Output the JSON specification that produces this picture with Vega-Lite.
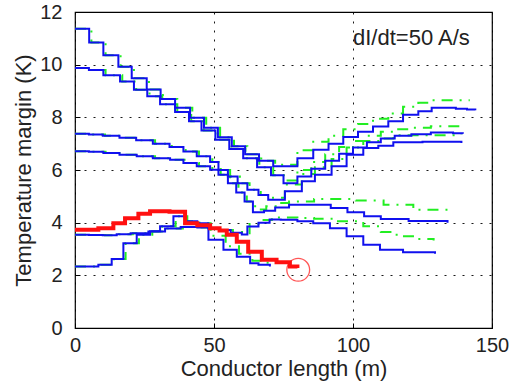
{
  "$schema": "https://vega.github.io/schema/vega-lite/v6.json",
  "width": 417,
  "height": 316,
  "autosize": {"type": "none"},
  "padding": {"left": 75, "top": 12, "right": 29, "bottom": 60},
  "config": {
    "view": {"stroke": "black", "strokeWidth": 1.2},
    "font": "Liberation Sans",
    "axis": {
      "grid": true,
      "gridColor": "black",
      "gridDash": [2, 7],
      "gridOpacity": 0.9,
      "domain": false,
      "tickSize": -5,
      "tickColor": "black",
      "labelFontSize": 20,
      "labelColor": "#222",
      "labelFlush": false,
      "titleFontSize": 22,
      "titleFontWeight": "normal",
      "titleColor": "#222"
    }
  },
  "datasets": {
    "blue": [
      {"s": "A", "x": 0, "y": 11.36}, {"s": "A", "x": 5.1, "y": 10.84}, {"s": "A", "x": 10.2, "y": 10.36}, {"s": "A", "x": 15.6, "y": 9.92}, {"s": "A", "x": 20.4, "y": 9.48}, {"s": "A", "x": 25.8, "y": 9.06}, {"s": "A", "x": 30.8, "y": 8.7}, {"s": "A", "x": 36, "y": 8.36}, {"s": "A", "x": 41.4, "y": 7.98}, {"s": "A", "x": 46.4, "y": 7.6}, {"s": "A", "x": 51.4, "y": 7.24}, {"s": "A", "x": 56.4, "y": 6.9}, {"s": "A", "x": 61.2, "y": 6.6}, {"s": "A", "x": 66.2, "y": 6.35}, {"s": "A", "x": 71.3, "y": 6.14}, {"s": "A", "x": 80, "y": 6.45}, {"s": "A", "x": 85.7, "y": 6.77}, {"s": "A", "x": 91.2, "y": 7.0}, {"s": "A", "x": 96.5, "y": 7.25}, {"s": "A", "x": 101.8, "y": 7.45}, {"s": "A", "x": 107.2, "y": 7.65}, {"s": "A", "x": 112.7, "y": 7.85}, {"s": "A", "x": 118, "y": 8.1}, {"s": "A", "x": 123.5, "y": 8.23}, {"s": "A", "x": 128.3, "y": 8.36}, {"s": "A", "x": 137, "y": 8.33}, {"s": "A", "x": 141, "y": 8.3}, {"s": "A", "x": 144, "y": 8.27},
      {"s": "B", "x": 0, "y": 9.87}, {"s": "B", "x": 5, "y": 9.8}, {"s": "B", "x": 10.2, "y": 9.6}, {"s": "B", "x": 16.2, "y": 9.36}, {"s": "B", "x": 21.2, "y": 9.05}, {"s": "B", "x": 26, "y": 8.8}, {"s": "B", "x": 30.6, "y": 8.5}, {"s": "B", "x": 36, "y": 8.2}, {"s": "B", "x": 41, "y": 7.85}, {"s": "B", "x": 45.5, "y": 7.5}, {"s": "B", "x": 50.5, "y": 7.15}, {"s": "B", "x": 55.5, "y": 6.8}, {"s": "B", "x": 60.5, "y": 6.45}, {"s": "B", "x": 65.5, "y": 6.1}, {"s": "B", "x": 70.5, "y": 5.8}, {"s": "B", "x": 75, "y": 5.5}, {"s": "B", "x": 80, "y": 5.75}, {"s": "B", "x": 85, "y": 6.05}, {"s": "B", "x": 90, "y": 6.35}, {"s": "B", "x": 95, "y": 6.62}, {"s": "B", "x": 100, "y": 6.85}, {"s": "B", "x": 105, "y": 7.05}, {"s": "B", "x": 110, "y": 7.2}, {"s": "B", "x": 115, "y": 7.3}, {"s": "B", "x": 121, "y": 7.36}, {"s": "B", "x": 128, "y": 7.42}, {"s": "B", "x": 136, "y": 7.4}, {"s": "B", "x": 139.5, "y": 7.38},
      {"s": "C", "x": 0, "y": 7.38}, {"s": "C", "x": 5, "y": 7.35}, {"s": "C", "x": 10, "y": 7.3}, {"s": "C", "x": 16, "y": 7.22}, {"s": "C", "x": 22, "y": 7.13}, {"s": "C", "x": 28, "y": 7.0}, {"s": "C", "x": 34, "y": 6.87}, {"s": "C", "x": 39, "y": 6.7}, {"s": "C", "x": 43.8, "y": 6.52}, {"s": "C", "x": 48.6, "y": 6.3}, {"s": "C", "x": 51.6, "y": 6.0}, {"s": "C", "x": 55, "y": 5.75}, {"s": "C", "x": 58.5, "y": 5.5}, {"s": "C", "x": 62, "y": 5.25}, {"s": "C", "x": 66, "y": 5.05}, {"s": "C", "x": 69.5, "y": 4.87}, {"s": "C", "x": 75.5, "y": 5.19}, {"s": "C", "x": 81.6, "y": 5.57}, {"s": "C", "x": 86.3, "y": 5.82}, {"s": "C", "x": 92.3, "y": 6.14}, {"s": "C", "x": 97.7, "y": 6.58}, {"s": "C", "x": 103.7, "y": 6.84}, {"s": "C", "x": 109.1, "y": 6.92}, {"s": "C", "x": 114.5, "y": 7.05}, {"s": "C", "x": 125, "y": 7.07}, {"s": "C", "x": 139, "y": 7.03},
      {"s": "D", "x": 0, "y": 6.71}, {"s": "D", "x": 5, "y": 6.69}, {"s": "D", "x": 10.2, "y": 6.65}, {"s": "D", "x": 16, "y": 6.58}, {"s": "D", "x": 22.2, "y": 6.52}, {"s": "D", "x": 28, "y": 6.45}, {"s": "D", "x": 34.2, "y": 6.39}, {"s": "D", "x": 39, "y": 6.27}, {"s": "D", "x": 43.8, "y": 6.14}, {"s": "D", "x": 48.6, "y": 6.01}, {"s": "D", "x": 51.6, "y": 5.82}, {"s": "D", "x": 55, "y": 5.5}, {"s": "D", "x": 58, "y": 5.15}, {"s": "D", "x": 61, "y": 4.8}, {"s": "D", "x": 64, "y": 4.4}, {"s": "D", "x": 68, "y": 4.45}, {"s": "D", "x": 72, "y": 4.58}, {"s": "D", "x": 77, "y": 4.68}, {"s": "D", "x": 86, "y": 4.68}, {"s": "D", "x": 92, "y": 4.56}, {"s": "D", "x": 98, "y": 4.4}, {"s": "D", "x": 104, "y": 4.24}, {"s": "D", "x": 110, "y": 4.14}, {"s": "D", "x": 120, "y": 4.06}, {"s": "D", "x": 134, "y": 4.0},
      {"s": "E", "x": 0, "y": 3.54}, {"s": "E", "x": 5, "y": 3.53}, {"s": "E", "x": 10, "y": 3.52}, {"s": "E", "x": 15, "y": 3.56}, {"s": "E", "x": 20, "y": 3.6}, {"s": "E", "x": 26.4, "y": 3.66}, {"s": "E", "x": 32.4, "y": 3.78}, {"s": "E", "x": 38, "y": 3.84}, {"s": "E", "x": 44, "y": 3.82}, {"s": "E", "x": 48, "y": 3.78}, {"s": "E", "x": 52, "y": 3.72}, {"s": "E", "x": 56, "y": 3.62}, {"s": "E", "x": 60, "y": 3.55}, {"s": "E", "x": 62, "y": 3.85}, {"s": "E", "x": 66, "y": 4.0}, {"s": "E", "x": 70, "y": 4.12}, {"s": "E", "x": 74, "y": 4.11}, {"s": "E", "x": 80, "y": 4.05}, {"s": "E", "x": 85.7, "y": 3.98}, {"s": "E", "x": 91.7, "y": 3.79}, {"s": "E", "x": 97.7, "y": 3.48}, {"s": "E", "x": 103.7, "y": 3.16}, {"s": "E", "x": 109.7, "y": 2.97}, {"s": "E", "x": 118, "y": 2.88}, {"s": "E", "x": 129.5, "y": 2.82},
      {"s": "F", "x": 0, "y": 2.34}, {"s": "F", "x": 8.4, "y": 2.4}, {"s": "F", "x": 13.2, "y": 2.62}, {"s": "F", "x": 17.4, "y": 3.22}, {"s": "F", "x": 22.2, "y": 3.54}, {"s": "F", "x": 27, "y": 3.67}, {"s": "F", "x": 30.6, "y": 3.86}, {"s": "F", "x": 35.4, "y": 4.24}, {"s": "F", "x": 39.6, "y": 4.05}, {"s": "F", "x": 44, "y": 3.98}, {"s": "F", "x": 48, "y": 3.35}, {"s": "F", "x": 53.4, "y": 2.97}, {"s": "F", "x": 58.2, "y": 2.71}, {"s": "F", "x": 63, "y": 2.46}, {"s": "F", "x": 66, "y": 2.4}, {"s": "F", "x": 70.1, "y": 2.34}
    ],
    "green": [
      {"s": "A", "x": 0, "y": 11.36}, {"s": "A", "x": 5.9, "y": 10.84}, {"s": "A", "x": 11, "y": 10.36}, {"s": "A", "x": 16.4, "y": 9.92}, {"s": "A", "x": 21.2, "y": 9.48}, {"s": "A", "x": 26.6, "y": 9.06}, {"s": "A", "x": 31.6, "y": 8.7}, {"s": "A", "x": 36.8, "y": 8.36}, {"s": "A", "x": 42.2, "y": 7.98}, {"s": "A", "x": 47.2, "y": 7.6}, {"s": "A", "x": 52.2, "y": 7.24}, {"s": "A", "x": 57.2, "y": 6.9}, {"s": "A", "x": 62, "y": 6.6}, {"s": "A", "x": 67, "y": 6.35}, {"s": "A", "x": 72, "y": 6.2}, {"s": "A", "x": 80, "y": 6.75}, {"s": "A", "x": 85.7, "y": 7.07}, {"s": "A", "x": 91.2, "y": 7.3}, {"s": "A", "x": 96.5, "y": 7.55}, {"s": "A", "x": 101.8, "y": 7.75}, {"s": "A", "x": 107.2, "y": 7.95}, {"s": "A", "x": 112.7, "y": 8.15}, {"s": "A", "x": 118, "y": 8.4}, {"s": "A", "x": 123.5, "y": 8.55}, {"s": "A", "x": 128.3, "y": 8.65}, {"s": "A", "x": 142, "y": 8.65},
      {"s": "B", "x": 0, "y": 9.87}, {"s": "B", "x": 5.8, "y": 9.8}, {"s": "B", "x": 11, "y": 9.6}, {"s": "B", "x": 17, "y": 9.36}, {"s": "B", "x": 22, "y": 9.05}, {"s": "B", "x": 26.8, "y": 8.8}, {"s": "B", "x": 31.4, "y": 8.5}, {"s": "B", "x": 36.8, "y": 8.2}, {"s": "B", "x": 41.8, "y": 7.85}, {"s": "B", "x": 46.3, "y": 7.5}, {"s": "B", "x": 51.3, "y": 7.15}, {"s": "B", "x": 56.3, "y": 6.8}, {"s": "B", "x": 61.3, "y": 6.45}, {"s": "B", "x": 66.3, "y": 6.1}, {"s": "B", "x": 71.3, "y": 5.8}, {"s": "B", "x": 75.8, "y": 5.6}, {"s": "B", "x": 80, "y": 6.0}, {"s": "B", "x": 85, "y": 6.3}, {"s": "B", "x": 90, "y": 6.6}, {"s": "B", "x": 95, "y": 6.87}, {"s": "B", "x": 100, "y": 7.1}, {"s": "B", "x": 105, "y": 7.3}, {"s": "B", "x": 110, "y": 7.45}, {"s": "B", "x": 115, "y": 7.55}, {"s": "B", "x": 121, "y": 7.6}, {"s": "B", "x": 128, "y": 7.66}, {"s": "B", "x": 139.5, "y": 7.64},
      {"s": "C", "x": 0, "y": 7.38}, {"s": "C", "x": 5.8, "y": 7.35}, {"s": "C", "x": 10.8, "y": 7.3}, {"s": "C", "x": 16.8, "y": 7.22}, {"s": "C", "x": 22.8, "y": 7.13}, {"s": "C", "x": 28.8, "y": 7.0}, {"s": "C", "x": 34.8, "y": 6.87}, {"s": "C", "x": 39.8, "y": 6.7}, {"s": "C", "x": 44.6, "y": 6.52}, {"s": "C", "x": 49.4, "y": 6.3}, {"s": "C", "x": 52.4, "y": 6.0}, {"s": "C", "x": 55.8, "y": 5.75}, {"s": "C", "x": 59.3, "y": 5.5}, {"s": "C", "x": 62.8, "y": 5.25}, {"s": "C", "x": 66.8, "y": 5.05}, {"s": "C", "x": 70.3, "y": 4.95}, {"s": "C", "x": 75.5, "y": 5.45}, {"s": "C", "x": 81.6, "y": 5.85}, {"s": "C", "x": 86.3, "y": 6.1}, {"s": "C", "x": 92.3, "y": 6.42}, {"s": "C", "x": 97.7, "y": 6.85}, {"s": "C", "x": 103.7, "y": 7.1}, {"s": "C", "x": 109.1, "y": 7.2}, {"s": "C", "x": 114.5, "y": 7.32}, {"s": "C", "x": 139, "y": 7.34},
      {"s": "D", "x": 0, "y": 6.71}, {"s": "D", "x": 5.8, "y": 6.69}, {"s": "D", "x": 11, "y": 6.65}, {"s": "D", "x": 16.8, "y": 6.58}, {"s": "D", "x": 23, "y": 6.52}, {"s": "D", "x": 28.8, "y": 6.45}, {"s": "D", "x": 35, "y": 6.39}, {"s": "D", "x": 39.8, "y": 6.27}, {"s": "D", "x": 44.6, "y": 6.14}, {"s": "D", "x": 49.4, "y": 6.01}, {"s": "D", "x": 52.4, "y": 5.82}, {"s": "D", "x": 55.8, "y": 5.5}, {"s": "D", "x": 58.8, "y": 5.15}, {"s": "D", "x": 61.8, "y": 4.8}, {"s": "D", "x": 64.8, "y": 4.5}, {"s": "D", "x": 68.8, "y": 4.62}, {"s": "D", "x": 72.8, "y": 4.75}, {"s": "D", "x": 77, "y": 4.8}, {"s": "D", "x": 86, "y": 4.9}, {"s": "D", "x": 92, "y": 4.9}, {"s": "D", "x": 101, "y": 4.84}, {"s": "D", "x": 111, "y": 4.68}, {"s": "D", "x": 121.7, "y": 4.49}, {"s": "D", "x": 134, "y": 4.43},
      {"s": "E", "x": 0, "y": 3.54}, {"s": "E", "x": 5.8, "y": 3.53}, {"s": "E", "x": 10.8, "y": 3.52}, {"s": "E", "x": 15.8, "y": 3.56}, {"s": "E", "x": 20.8, "y": 3.6}, {"s": "E", "x": 27.2, "y": 3.66}, {"s": "E", "x": 33.2, "y": 3.78}, {"s": "E", "x": 38.8, "y": 3.84}, {"s": "E", "x": 44.8, "y": 3.82}, {"s": "E", "x": 48.8, "y": 3.78}, {"s": "E", "x": 52.8, "y": 3.72}, {"s": "E", "x": 56.8, "y": 3.65}, {"s": "E", "x": 60.8, "y": 3.6}, {"s": "E", "x": 62.8, "y": 3.95}, {"s": "E", "x": 66.8, "y": 4.1}, {"s": "E", "x": 70.8, "y": 4.2}, {"s": "E", "x": 80, "y": 4.18}, {"s": "E", "x": 86, "y": 4.15}, {"s": "E", "x": 94, "y": 4.05}, {"s": "E", "x": 103.7, "y": 3.86}, {"s": "E", "x": 110, "y": 3.65}, {"s": "E", "x": 115.7, "y": 3.48}, {"s": "E", "x": 122, "y": 3.38}, {"s": "E", "x": 129, "y": 3.32},
      {"s": "F", "x": 0, "y": 2.34}, {"s": "F", "x": 9.2, "y": 2.4}, {"s": "F", "x": 14, "y": 2.62}, {"s": "F", "x": 18.2, "y": 3.22}, {"s": "F", "x": 23, "y": 3.54}, {"s": "F", "x": 27.8, "y": 3.67}, {"s": "F", "x": 31.4, "y": 3.86}, {"s": "F", "x": 36.2, "y": 4.24}, {"s": "F", "x": 40.4, "y": 4.05}, {"s": "F", "x": 44.8, "y": 3.98}, {"s": "F", "x": 48.8, "y": 3.5}, {"s": "F", "x": 54.2, "y": 3.1}, {"s": "F", "x": 59, "y": 2.82}, {"s": "F", "x": 63.8, "y": 2.55}, {"s": "F", "x": 68, "y": 2.48}, {"s": "F", "x": 74, "y": 2.47}
    ],
    "red": [
      {"x": 0, "y": 3.73}, {"x": 8.4, "y": 3.79}, {"x": 13.8, "y": 3.98}, {"x": 18, "y": 4.17}, {"x": 22.8, "y": 4.34}, {"x": 27, "y": 4.43}, {"x": 34, "y": 4.41}, {"x": 39.6, "y": 3.98}, {"x": 44, "y": 3.9}, {"x": 48.6, "y": 3.79}, {"x": 52, "y": 3.7}, {"x": 54.6, "y": 3.54}, {"x": 58.2, "y": 3.28}, {"x": 62.3, "y": 2.9}, {"x": 67.2, "y": 2.59}, {"x": 72.5, "y": 2.5}, {"x": 77.3, "y": 2.34}, {"x": 80, "y": 2.28}
    ],
    "marker": [{"x": 80.3, "y": 2.21}],
    "note": [{"x": 100, "y": 11, "label": "dI/dt=50 A/s"}]
  },
  "encoding": {
    "x": {"field": "x", "type": "quantitative", "scale": {"domain": [0, 150], "nice": false}, "axis": {"values": [0, 50, 100, 150], "title": "Conductor length (m)", "labelPadding": 12, "titlePadding": 3}},
    "y": {"field": "y", "type": "quantitative", "scale": {"domain": [0, 12], "nice": false}, "axis": {"values": [0, 2, 4, 6, 8, 10, 12], "title": "Temperature margin (K)", "labelPadding": 18, "titlePadding": 4}}
  },
  "layer": [
    {"data": {"name": "green"}, "mark": {"type": "line", "interpolate": "step-after", "color": "#22ee22", "strokeWidth": 2, "strokeDash": [11, 7, 2, 7]}, "encoding": {"detail": {"field": "s"}}},
    {"data": {"name": "blue"}, "mark": {"type": "line", "interpolate": "step-after", "color": "#1010ee", "strokeWidth": 2}, "encoding": {"detail": {"field": "s"}}},
    {"data": {"name": "red"}, "mark": {"type": "line", "interpolate": "step-after", "color": "#ff1010", "strokeWidth": 4}},
    {"data": {"name": "marker"}, "mark": {"type": "point", "shape": "circle", "filled": false, "color": "#ff1010", "size": 520, "strokeWidth": 1.3}},
    {"data": {"name": "note"}, "mark": {"type": "text", "align": "left", "baseline": "middle", "fontSize": 22, "color": "#222"}, "encoding": {"text": {"field": "label"}}}
  ]
}
